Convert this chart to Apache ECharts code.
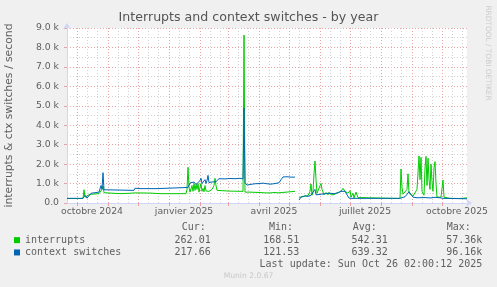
<!DOCTYPE html>
<html><head><meta charset="utf-8">
<script src="https://cdn.jsdelivr.net/npm/echarts@6/dist/echarts.min.js"></script>
<style>html,body{margin:0;padding:0;background:#F0F0F0;}#c{width:497px;height:287px;}</style>
</head><body><div id="c"></div>
<script>
const seriesNames = ['interrupts', 'context switches'];
const irqDates = ['2024-09-21','2024-10-07','2024-10-08','2024-10-09','2024-10-11','2024-10-12','2024-10-15','2024-10-23','2024-10-25','2024-10-26','2024-10-27','2024-10-28','2024-10-29','2024-11-13','2024-11-23','2024-11-28','2024-12-13','2024-12-23','2025-01-18','2025-01-19','2025-01-20','2025-01-21','2025-01-22','2025-01-24','2025-01-25','2025-01-26','2025-01-27','2025-01-28','2025-01-29','2025-01-30','2025-01-31','2025-02-01','2025-02-02','2025-02-03','2025-02-04','2025-02-05','2025-02-06','2025-02-07','2025-02-08','2025-02-09','2025-02-10','2025-02-11','2025-02-13','2025-02-15','2025-02-16','2025-02-17','2025-02-18','2025-02-19','2025-03-03','2025-03-16','2025-03-17','2025-03-18','2025-03-23','2025-04-02','2025-04-07','2025-04-12','2025-04-17','2025-04-20','2025-04-22','2025-05-07','2025-05-09','2025-05-11','2025-05-14','2025-05-17','2025-05-20','2025-05-22','2025-05-23','2025-05-24','2025-05-25','2025-05-26','2025-05-27','2025-05-28','2025-05-29','2025-05-31','2025-06-02','2025-06-03','2025-06-05','2025-06-07','2025-06-09','2025-06-10','2025-06-12','2025-06-15','2025-06-18','2025-06-20','2025-06-22','2025-06-24','2025-06-25','2025-06-26','2025-06-28','2025-06-29','2025-07-01','2025-07-02','2025-07-04','2025-07-05','2025-07-07','2025-07-08','2025-07-09','2025-07-11','2025-08-20','2025-08-21','2025-08-22','2025-08-23','2025-08-25','2025-08-27','2025-08-28','2025-08-29','2025-08-31','2025-09-02','2025-09-04','2025-09-06','2025-09-08','2025-09-09','2025-09-10','2025-09-11','2025-09-13','2025-09-14','2025-09-15','2025-09-16','2025-09-17','2025-09-18','2025-09-19','2025-09-20','2025-09-21','2025-09-22','2025-09-23','2025-09-24','2025-09-25','2025-09-26','2025-09-28','2025-09-30','2025-10-02','2025-10-03','2025-10-05','2025-10-09','2025-10-19','2025-10-26'];
const irqValues = [230,230,680,300,260,400,450,480,500,700,870,530,500,480,500,520,510,480,480,700,1840,800,560,900,600,1000,650,950,700,1000,560,800,1000,600,750,580,900,620,560,700,600,560,700,900,1270,900,650,620,610,600,8640,560,560,540,520,520,540,520,600,600,null,290,320,350,380,600,980,400,600,1500,2160,1200,500,450,1010,700,420,540,420,550,420,430,520,450,600,750,840,600,700,500,640,300,500,260,560,620,280,230,230,1750,800,450,500,700,1500,500,400,350,300,700,2420,1200,2350,600,400,1800,2400,900,2300,1200,700,2000,1100,600,1800,2130,1000,300,280,300,1180,300,260,240,230,262];
const ctxDates = ['2024-09-21','2024-10-07','2024-10-09','2024-10-11','2024-10-13','2024-10-15','2024-10-17','2024-10-23','2024-10-25','2024-10-26','2024-10-27','2024-10-28','2024-10-29','2024-11-27','2024-11-28','2024-11-30','2024-12-03','2024-12-20','2024-12-21','2025-01-20','2025-01-21','2025-01-22','2025-01-24','2025-01-26','2025-01-28','2025-01-30','2025-02-01','2025-02-02','2025-02-03','2025-02-05','2025-02-06','2025-02-07','2025-02-08','2025-02-09','2025-02-10','2025-02-13','2025-02-17','2025-02-19','2025-02-20','2025-02-26','2025-03-03','2025-03-08','2025-03-13','2025-03-16','2025-03-17','2025-03-18','2025-03-20','2025-03-22','2025-03-24','2025-03-26','2025-03-28','2025-03-30','2025-04-01','2025-04-03','2025-04-05','2025-04-07','2025-04-09','2025-04-11','2025-04-13','2025-04-15','2025-04-17','2025-04-19','2025-04-21','2025-04-23','2025-04-25','2025-04-27','2025-04-29','2025-05-01','2025-05-03','2025-05-05','2025-05-07','2025-05-09','2025-05-11','2025-05-13','2025-05-15','2025-05-17','2025-05-20','2025-05-23','2025-05-25','2025-05-27','2025-05-28','2025-05-30','2025-06-02','2025-06-04','2025-06-07','2025-06-11','2025-06-15','2025-06-19','2025-06-22','2025-06-24','2025-06-26','2025-06-28','2025-06-30','2025-07-03','2025-08-20','2025-08-22','2025-08-25','2025-08-27','2025-08-29','2025-08-31','2025-09-02','2025-09-06','2025-09-14','2025-09-19','2025-09-24','2025-09-29','2025-10-02','2025-10-26'];
const ctxValues = [240,240,400,250,300,500,530,560,900,700,1560,680,650,650,760,700,740,740,800,800,840,1030,1000,1080,950,1000,1150,1270,1000,1100,1200,1000,1150,1420,1050,1080,1100,1100,1250,1240,1260,1250,1270,1240,4870,1050,920,980,960,1010,990,940,1000,980,1020,960,990,1000,970,1010,1000,1010,1040,1200,1340,1300,1350,1300,1330,1320,1330,null,150,300,360,370,340,400,380,700,420,380,450,500,480,500,480,520,600,690,600,500,250,240,240,300,320,450,580,560,300,270,280,260,290,270,240,218];
const axisStart = '2024-09-21';
const axisEnd = '2025-10-26';
const monthStarts = ['2024-10-01','2024-11-01','2024-12-01','2025-01-01','2025-02-01','2025-03-01','2025-04-01','2025-05-01','2025-06-01','2025-07-01','2025-08-01','2025-09-01','2025-10-01'];
const minorGridDates = ['2024-10-11','2024-10-21','2024-11-11','2024-11-21','2024-12-11','2024-12-21','2025-01-11','2025-01-21','2025-02-11','2025-02-21','2025-03-11','2025-03-21','2025-04-11','2025-04-21','2025-05-11','2025-05-21','2025-06-11','2025-06-21','2025-07-11','2025-07-21','2025-08-11','2025-08-21','2025-09-11','2025-09-21','2025-10-11','2025-10-21'];
const tickLabelDates = ['2024-10-16','2025-01-16','2025-04-16','2025-07-16','2025-10-16'];
const tickLabels = ['octobre 2024','janvier 2025','avril 2025','juillet 2025','octobre 2025'];
const statHeaders = ['Cur:','Min:','Avg:','Max:'];
const irqStats = ['262.01','168.51','542.31','57.36k'];
const ctxStats = ['217.66','121.53','639.32','96.16k'];
const titleText = 'Interrupts and context switches - by year';
const yAxisTitle = 'interrupts & ctx switches / second';
const lastUpdate = 'Last update: Sun Oct 26 02:00:12 2025';
const watermark = 'RRDTOOL / TOBI OETIKER';
const footer = 'Munin 2.0.67';

const P = d => +echarts.number.parseDate(d);
const ts = a => a.map(P);
const labelTs = ts(tickLabelDates);
const FONT = 'DejaVu Sans';
const MONO = 'DejaVu Sans Mono';
const TXT = '#606060';
const MAJOR = '#E8A4A4';
const MINOR = '#D2D2D2';
const AXIS = '#CFD6F8';

const headerLeft = [181.7, 269, 352.7, 446.7];
const valueRight = [210.7, 299.3, 387.7, 482.3];
const graphics = [];
statHeaders.forEach((h, i) => graphics.push({type:'text', x: headerLeft[i], y: 227, style:{text:h, font:'10px "DejaVu Sans Mono"', fill:TXT, align:'left', verticalAlign:'middle'}}));
[irqStats, ctxStats].forEach((row, r) => row.forEach((v, i) => graphics.push({type:'text', x: valueRight[i], y: 240 + r*12.3, style:{text:v, font:'10px "DejaVu Sans Mono"', fill:TXT, align:'right', verticalAlign:'middle'}})));
graphics.push({type:'text', x: 482.3, y: 264, style:{text:lastUpdate, font:'10px "DejaVu Sans Mono"', fill:TXT, align:'right', verticalAlign:'middle'}});
graphics.push({type:'text', x: 248.5, y: 276, style:{text:footer, font:'7.6px "DejaVu Sans"', fill:'#C8C8C8', align:'center', verticalAlign:'middle'}});
graphics.push({type:'text', x: 487.5, y: 53, rotation: -Math.PI/2, style:{text:watermark, font:'7.4px "DejaVu Sans"', fill:'#CCCCCC', align:'center', verticalAlign:'middle'}});
graphics.push({type:'text', x: 9.5, y: 115.5, rotation: Math.PI/2, style:{text:yAxisTitle, font:'10.8px "DejaVu Sans"', fill:TXT, align:'center', verticalAlign:'middle'}});

const chart = echarts.init(document.getElementById('c'), null, {renderer:'canvas'});
chart.setOption({
  animation: false,
  backgroundColor: '#F0F0F0',
  title: {text: titleText, left: 'center', top: 11, padding: 0, textStyle: {fontFamily: FONT, fontSize: 12.6, fontWeight: 'normal', color: '#555'}},
  grid: {left: 67, right: 30, top: 28, bottom: 84, show: true, backgroundColor: '#FFFFFF', borderWidth: 0},
  legend: {orient: 'vertical', left: 14, top: 234, padding: 0, itemWidth: 6, itemHeight: 6, itemGap: 0, itemTextGap: 6.7, icon: 'rect', selectedMode: false, data: seriesNames, textStyle: {fontFamily: MONO, fontSize: 10, color: TXT, lineHeight: 12.3}},
  xAxis: [
    {type: 'value', min: P(axisStart), max: P(axisEnd),
     axisLine: {show: true, lineStyle: {color: AXIS}, symbol: ['none', 'arrow'], symbolSize: [6, 6], symbolOffset: [0, 5]},
     axisTick: {show: true, customValues: ts(monthStarts), length: 3, lineStyle: {color: MAJOR}},
     axisLabel: {customValues: labelTs, margin: 4, fontFamily: FONT, fontSize: 9.3, color: TXT, hideOverlap: false, showMinLabel: true, showMaxLabel: true,
       formatter: v => { const i = labelTs.indexOf(+v); return i >= 0 ? tickLabels[i] : ''; }},
     splitLine: {show: true, lineStyle: {color: MAJOR, type: [1, 2], width: 1}}},
    {type: 'value', min: P(axisStart), max: P(axisEnd), position: 'bottom',
     axisLine: {show: false}, axisLabel: {show: false},
     axisTick: {show: false, customValues: ts(minorGridDates)},
     splitLine: {show: true, lineStyle: {color: MINOR, type: [1, 2], width: 1}}}
  ],
  yAxis: {type: 'value', min: 0, max: 9000, interval: 1000,
    axisLine: {show: true, lineStyle: {color: AXIS}, symbol: ['none', 'arrow'], symbolSize: [6, 6], symbolOffset: [0, 5]},
    axisTick: {show: true, length: 3, lineStyle: {color: MAJOR}},
    axisLabel: {margin: 8, fontFamily: FONT, fontSize: 9.3, color: TXT, formatter: v => v === 0 ? '0.0' : (v / 1000).toFixed(1) + ' k'},
    splitLine: {show: true, lineStyle: {color: MAJOR, type: [1, 2], width: 1}},
    minorTick: {show: false, splitNumber: 2},
    minorSplitLine: {show: true, lineStyle: {color: MINOR, type: [1, 2], width: 1}}},
  series: [
    {name: seriesNames[0], type: 'line', xAxisIndex: 0, showSymbol: false, symbol: 'none',
     data: irqDates.map((d, i) => [P(d), irqValues[i] === null ? '-' : irqValues[i]]),
     lineStyle: {width: 1, color: '#00CC00'}, itemStyle: {color: '#00CC00'}},
    {name: seriesNames[1], type: 'line', xAxisIndex: 0, showSymbol: false, symbol: 'none',
     data: ctxDates.map((d, i) => [P(d), ctxValues[i] === null ? '-' : ctxValues[i]]),
     lineStyle: {width: 1, color: '#0066B3'}, itemStyle: {color: '#0066B3'}}
  ],
  graphic: graphics
});
</script></body></html>
